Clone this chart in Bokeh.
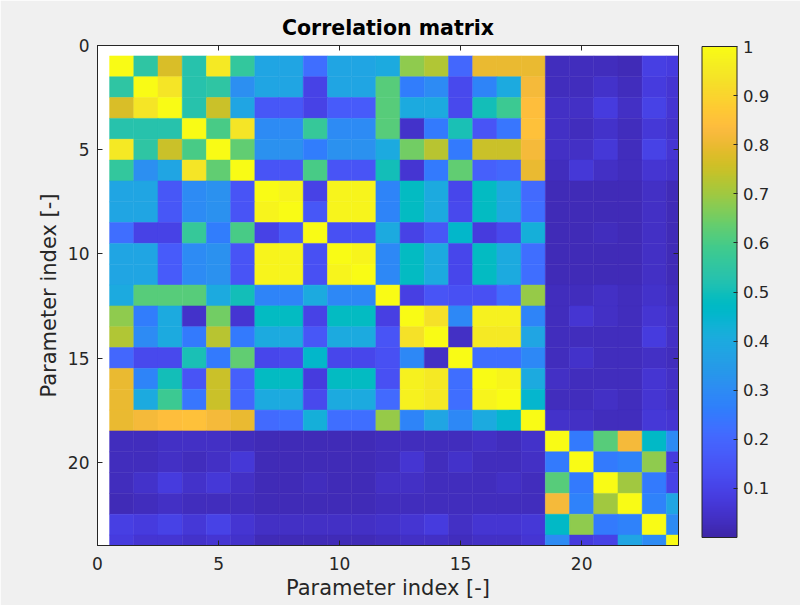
import numpy as np
from bokeh.plotting import figure
from bokeh.models import (Range1d, LinearAxis, FixedTicker, ColorBar, LinearColorMapper,
                          PrintfTickFormatter, ColumnDataSource)
from bokeh.transform import transform
from bokeh.embed import file_html
from bokeh.resources import INLINE

# ---------------- data ----------------
param_index = list(range(1, 25))

r01 = [1.00, 0.55, 0.77, 0.53, 0.95, 0.56, 0.38, 0.38, 0.22, 0.38, 0.38, 0.40, 0.68, 0.72, 0.20, 0.80, 0.80, 0.80, 0.03, 0.03, 0.03, 0.02, 0.09, 0.08]
r02 = [0.55, 1.00, 0.94, 0.53, 0.55, 0.31, 0.38, 0.38, 0.10, 0.38, 0.38, 0.62, 0.26, 0.30, 0.12, 0.28, 0.40, 0.82, 0.03, 0.03, 0.05, 0.03, 0.08, 0.06]
r03 = [0.77, 0.94, 1.00, 0.53, 0.75, 0.38, 0.16, 0.16, 0.10, 0.17, 0.17, 0.62, 0.40, 0.40, 0.12, 0.50, 0.58, 0.84, 0.04, 0.04, 0.08, 0.04, 0.10, 0.06]
r04 = [0.53, 0.53, 0.53, 1.00, 0.60, 0.94, 0.30, 0.30, 0.57, 0.30, 0.30, 0.62, 0.05, 0.25, 0.51, 0.15, 0.24, 0.85, 0.04, 0.03, 0.05, 0.03, 0.07, 0.05]
r05 = [0.95, 0.55, 0.75, 0.60, 1.00, 0.63, 0.32, 0.32, 0.26, 0.32, 0.32, 0.40, 0.65, 0.73, 0.25, 0.75, 0.75, 0.82, 0.04, 0.04, 0.07, 0.03, 0.10, 0.06]
r06 = [0.56, 0.31, 0.38, 0.94, 0.63, 1.00, 0.15, 0.15, 0.60, 0.15, 0.15, 0.50, 0.06, 0.25, 0.63, 0.18, 0.20, 0.80, 0.03, 0.07, 0.04, 0.03, 0.06, 0.05]
r07 = [0.38, 0.38, 0.16, 0.30, 0.32, 0.15, 1.00, 0.98, 0.10, 0.98, 0.98, 0.28, 0.48, 0.40, 0.11, 0.48, 0.40, 0.21, 0.02, 0.02, 0.02, 0.02, 0.04, 0.02]
r08 = [0.38, 0.38, 0.16, 0.30, 0.32, 0.15, 0.98, 1.00, 0.16, 0.98, 0.98, 0.28, 0.48, 0.40, 0.12, 0.48, 0.40, 0.22, 0.02, 0.02, 0.02, 0.02, 0.04, 0.02]
r09 = [0.22, 0.10, 0.10, 0.57, 0.26, 0.60, 0.10, 0.16, 1.00, 0.14, 0.14, 0.40, 0.10, 0.16, 0.46, 0.08, 0.12, 0.42, 0.02, 0.02, 0.03, 0.02, 0.04, 0.02]
r10 = [0.38, 0.38, 0.17, 0.30, 0.32, 0.15, 0.98, 0.98, 0.14, 1.00, 0.98, 0.29, 0.48, 0.40, 0.11, 0.48, 0.40, 0.22, 0.02, 0.02, 0.02, 0.02, 0.04, 0.02]
r11 = [0.38, 0.38, 0.17, 0.30, 0.32, 0.15, 0.98, 0.98, 0.14, 0.98, 1.00, 0.29, 0.48, 0.40, 0.11, 0.48, 0.40, 0.22, 0.02, 0.02, 0.02, 0.02, 0.04, 0.02]
r12 = [0.40, 0.62, 0.62, 0.62, 0.40, 0.50, 0.28, 0.28, 0.40, 0.29, 0.29, 1.00, 0.09, 0.15, 0.14, 0.14, 0.21, 0.69, 0.03, 0.03, 0.04, 0.03, 0.05, 0.03]
r13 = [0.68, 0.26, 0.40, 0.05, 0.65, 0.06, 0.48, 0.48, 0.10, 0.48, 0.48, 0.09, 1.00, 0.93, 0.29, 0.97, 0.97, 0.28, 0.03, 0.06, 0.04, 0.03, 0.06, 0.04]
r14 = [0.72, 0.30, 0.40, 0.25, 0.73, 0.25, 0.40, 0.40, 0.16, 0.40, 0.40, 0.15, 0.93, 1.00, 0.04, 0.95, 0.95, 0.38, 0.03, 0.03, 0.03, 0.03, 0.08, 0.04]
r15 = [0.20, 0.12, 0.12, 0.51, 0.25, 0.63, 0.11, 0.12, 0.46, 0.11, 0.11, 0.14, 0.29, 0.04, 1.00, 0.22, 0.22, 0.29, 0.03, 0.05, 0.03, 0.03, 0.04, 0.03]
r16 = [0.80, 0.28, 0.50, 0.15, 0.75, 0.18, 0.48, 0.48, 0.08, 0.48, 0.48, 0.14, 0.97, 0.95, 0.22, 1.00, 0.98, 0.40, 0.04, 0.03, 0.03, 0.03, 0.06, 0.04]
r17 = [0.80, 0.40, 0.58, 0.24, 0.75, 0.20, 0.40, 0.40, 0.12, 0.40, 0.40, 0.21, 0.97, 0.95, 0.22, 0.98, 1.00, 0.45, 0.03, 0.03, 0.04, 0.03, 0.06, 0.04]
r18 = [0.80, 0.82, 0.84, 0.85, 0.82, 0.80, 0.21, 0.22, 0.42, 0.22, 0.22, 0.69, 0.28, 0.38, 0.29, 0.40, 0.45, 1.00, 0.05, 0.04, 0.03, 0.03, 0.07, 0.06]
r19 = [0.03, 0.03, 0.04, 0.04, 0.04, 0.03, 0.02, 0.02, 0.02, 0.02, 0.02, 0.03, 0.03, 0.03, 0.03, 0.04, 0.03, 0.05, 1.00, 0.25, 0.62, 0.82, 0.47, 0.30]
r20 = [0.03, 0.03, 0.04, 0.03, 0.04, 0.07, 0.02, 0.02, 0.02, 0.02, 0.02, 0.03, 0.06, 0.03, 0.05, 0.03, 0.03, 0.04, 0.25, 1.00, 0.25, 0.27, 0.68, 0.08]
r21 = [0.03, 0.05, 0.08, 0.05, 0.07, 0.04, 0.02, 0.02, 0.03, 0.02, 0.02, 0.04, 0.04, 0.03, 0.03, 0.03, 0.04, 0.03, 0.62, 0.25, 1.00, 0.70, 0.25, 0.10]
r22 = [0.02, 0.03, 0.04, 0.03, 0.03, 0.03, 0.02, 0.02, 0.02, 0.02, 0.02, 0.03, 0.03, 0.03, 0.03, 0.03, 0.03, 0.03, 0.82, 0.27, 0.70, 1.00, 0.27, 0.38]
r23 = [0.09, 0.08, 0.10, 0.07, 0.10, 0.06, 0.04, 0.04, 0.04, 0.04, 0.04, 0.05, 0.06, 0.08, 0.04, 0.06, 0.06, 0.07, 0.47, 0.68, 0.25, 0.27, 1.00, 0.30]
r24 = [0.08, 0.06, 0.06, 0.05, 0.06, 0.05, 0.02, 0.02, 0.02, 0.02, 0.02, 0.03, 0.04, 0.04, 0.03, 0.04, 0.04, 0.06, 0.30, 0.08, 0.10, 0.38, 0.30, 1.00]

rows = [r01, r02, r03, r04, r05, r06, r07, r08, r09, r10, r11, r12,
        r13, r14, r15, r16, r17, r18, r19, r20, r21, r22, r23, r24]

x_ticks = [0, 5, 10, 15, 20]
y_ticks = [0, 5, 10, 15, 20]
cbar_ticks = [0.1, 0.2, 0.3, 0.4, 0.5, 0.6, 0.7, 0.8, 0.9, 1.0]

# ---------------- parula colormap (MATLAB parula(64)) ----------------
parula_anchors = [
    (0.2422, 0.1504, 0.6603), (0.2504, 0.1650, 0.7076), (0.2578, 0.1818, 0.7511), (0.2647, 0.1978, 0.7952),
    (0.2706, 0.2147, 0.8364), (0.2751, 0.2342, 0.8710), (0.2783, 0.2559, 0.8991), (0.2803, 0.2782, 0.9221),
    (0.2813, 0.3006, 0.9414), (0.2810, 0.3228, 0.9579), (0.2795, 0.3447, 0.9717), (0.2760, 0.3667, 0.9829),
    (0.2699, 0.3892, 0.9906), (0.2602, 0.4123, 0.9952), (0.2440, 0.4358, 0.9988), (0.2206, 0.4603, 0.9973),
    (0.1963, 0.4847, 0.9892), (0.1834, 0.5074, 0.9798), (0.1786, 0.5289, 0.9682), (0.1764, 0.5499, 0.9520),
    (0.1687, 0.5703, 0.9359), (0.1540, 0.5902, 0.9218), (0.1460, 0.6091, 0.9079), (0.1380, 0.6276, 0.8973),
    (0.1248, 0.6459, 0.8883), (0.1113, 0.6635, 0.8763), (0.0952, 0.6798, 0.8598), (0.0689, 0.6948, 0.8394),
    (0.0297, 0.7082, 0.8163), (0.0036, 0.7203, 0.7917), (0.0067, 0.7312, 0.7660), (0.0433, 0.7411, 0.7394),
    (0.0964, 0.7500, 0.7120), (0.1408, 0.7584, 0.6842), (0.1717, 0.7670, 0.6554), (0.1938, 0.7758, 0.6251),
    (0.2161, 0.7843, 0.5923), (0.2470, 0.7918, 0.5567), (0.2906, 0.7973, 0.5188), (0.3406, 0.8008, 0.4789),
    (0.3909, 0.8029, 0.4354), (0.4456, 0.8024, 0.3909), (0.5044, 0.7993, 0.3480), (0.5616, 0.7942, 0.3045),
    (0.6174, 0.7876, 0.2612), (0.6720, 0.7793, 0.2227), (0.7242, 0.7698, 0.1910), (0.7738, 0.7598, 0.1646),
    (0.8203, 0.7498, 0.1535), (0.8634, 0.7406, 0.1596), (0.9035, 0.7330, 0.1774), (0.9393, 0.7288, 0.2100),
    (0.9728, 0.7298, 0.2394), (0.9956, 0.7434, 0.2371), (0.9970, 0.7659, 0.2199), (0.9952, 0.7893, 0.2028),
    (0.9892, 0.8136, 0.1885), (0.9786, 0.8386, 0.1766), (0.9676, 0.8639, 0.1643), (0.9610, 0.8890, 0.1537),
    (0.9597, 0.9135, 0.1423), (0.9628, 0.9373, 0.1265), (0.9691, 0.9606, 0.1064), (0.9769, 0.9839, 0.0805),
]
anch = np.array(parula_anchors)
t_a = np.linspace(0, 1, len(anch))
t_p = np.linspace(0, 1, 256)
palette = []
for t in t_p:
    rgb = [np.interp(t, t_a, anch[:, k]) for k in range(3)]
    palette.append("#%02x%02x%02x" % tuple(int(round(c * 255)) for c in rgb))

# ---------------- cells ----------------
xs, ys, vs = [], [], []
for i, row in zip(param_index, rows):
    for j, v in zip(param_index, row):
        xs.append(j)
        ys.append(i)
        vs.append(v)
src = ColumnDataSource(dict(x=xs, y=ys, v=vs))

mapper = LinearColorMapper(palette=palette, low=0.0, high=1.0)

FONT = "DejaVu Sans"
AX = "#262626"

p = figure(width=800, height=605, x_range=Range1d(0, 24), y_range=Range1d(24, 0),
           output_backend="svg", toolbar_location=None,
           min_border_left=97, min_border_right=122, min_border_top=45, min_border_bottom=60,
           title="Correlation matrix",
           x_axis_label="Parameter index [-]", y_axis_label="Parameter index [-]")

p.rect(x="x", y="y", width=1, height=1, source=src,
       fill_color=transform("v", mapper), line_color=transform("v", mapper), line_width=0.5)

p.border_fill_color = "#f0f0f0"
p.background_fill_color = "white"
p.outline_line_color = AX
p.outline_line_width = 1
p.grid.visible = False

p.title.text_font = FONT
p.title.text_font_size = "20.5px"
p.title.text_font_style = "bold"
p.title.text_color = "black"
p.title.align = "center"
p.title.standoff = 12

def style_axis(ax, ticks, labels=True):
    ax.ticker = FixedTicker(ticks=ticks)
    ax.minor_tick_line_color = None
    ax.major_tick_in = 5
    ax.major_tick_out = 0
    ax.major_tick_line_color = AX
    ax.axis_line_color = AX
    ax.major_label_text_font = FONT
    ax.major_label_text_font_size = "17px"
    ax.major_label_text_color = AX
    ax.axis_label_text_font = FONT
    ax.axis_label_text_font_size = "21px"
    ax.axis_label_text_font_style = "normal"
    ax.axis_label_text_color = AX
    if not labels:
        ax.major_label_text_font_size = "1px"
        ax.major_label_text_color = None
        ax.major_label_standoff = 0

style_axis(p.xaxis[0], x_ticks)
style_axis(p.yaxis[0], y_ticks)
p.xaxis[0].major_label_standoff = 11
p.yaxis[0].major_label_standoff = 8
p.xaxis[0].axis_label_standoff = 3
p.yaxis[0].axis_label_standoff = 4

top_ax = LinearAxis()
style_axis(top_ax, x_ticks, labels=False)
p.add_layout(top_ax, "above")
right_ax = LinearAxis()
style_axis(right_ax, y_ticks, labels=False)
p.add_layout(right_ax, "right")

cb = ColorBar(color_mapper=mapper, ticker=FixedTicker(ticks=cbar_ticks),
              formatter=PrintfTickFormatter(format="%g"),
              width=35, height=491, location=(604.5, 8), padding=0, margin=0,
              bar_line_color=AX, bar_line_width=1,
              major_tick_line_color=AX, major_tick_in=4, major_tick_out=0,
              minor_tick_line_color=None,
              major_label_text_font=FONT, major_label_text_font_size="16.5px",
              major_label_text_color=AX, label_standoff=6,
              background_fill_color=None, border_line_color=None)
p.add_layout(cb, "center")

open("out.html", "w").write(file_html(p, INLINE))
